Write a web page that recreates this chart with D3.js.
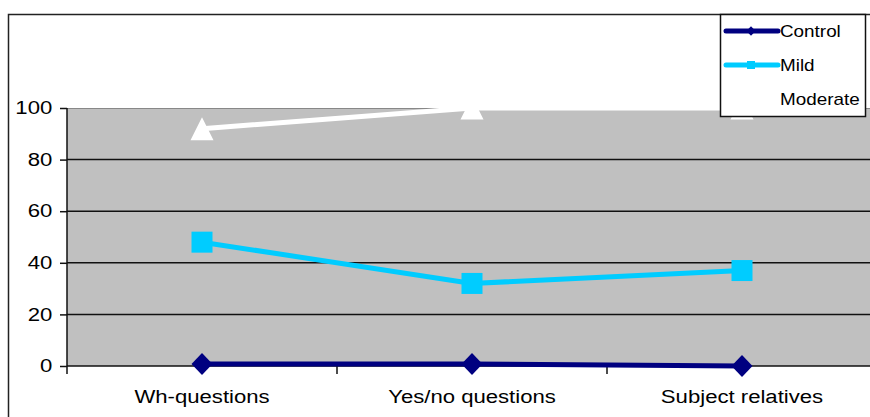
<!DOCTYPE html>
<html>
<head>
<meta charset="utf-8">
<script src="https://cdn.jsdelivr.net/npm/d3@7"></script>
<style>
body { margin: 0; background: #fff; }
text { font-family: "Liberation Sans", Arial, sans-serif; }
</style>
</head>
<body>
<div id="chart"></div>
<script>
var categories = ["Wh-questions", "Yes/no questions", "Subject relatives"],
    seriesNames = ["Control", "Mild", "Moderate"],
    control = [0.8, 0.8, 0],
    mild = [48, 32, 37],
    moderate = [92, 100, 100],
    yTicks = [0, 20, 40, 60, 80, 100];

var width = 870, height = 417,
    plotLeft = 67, plotRight = 877, plotTop = 108, plotBottom = 366,
    stretch = 1.23; // the text in the picture is stretched sideways

var svg = d3.select("#chart").append("svg")
    .attr("width", width).attr("height", height);

var x = d3.scaleBand().domain(categories).range([plotLeft, plotRight]);
var y = d3.scaleLinear().domain([0, 100]).range([plotBottom, plotTop]);

// marker shapes, size = half width
var diamond = { draw: function(c, r) {
    c.moveTo(0, -r * 1.05); c.lineTo(r, 0); c.lineTo(0, r * 1.05); c.lineTo(-r, 0); c.closePath();
} };
var square = { draw: function(c, r) { c.rect(-r, -r, 2 * r, 2 * r); } };
var triangle = { draw: function(c, r) {
    c.moveTo(0, -r); c.lineTo(r, r); c.lineTo(-r, r); c.closePath();
} };

// outer frame
svg.append("path").attr("d", "M8.5," + height + "V14.5H" + width)
    .attr("fill", "none").attr("stroke", "#222").attr("stroke-width", 1.5);

// plot area
svg.append("rect").attr("x", plotLeft).attr("y", plotTop)
    .attr("width", plotRight - plotLeft).attr("height", plotBottom - plotTop)
    .attr("fill", "#c0c0c0");
svg.append("line").attr("x1", plotLeft).attr("x2", plotRight).attr("y1", plotTop + 0.5).attr("y2", plotTop + 0.5)
    .attr("stroke", "#888").attr("stroke-width", 1);

// grid
svg.selectAll("line.grid").data(yTicks.filter(function(d) { return d > 0 && d < 100; }))
    .enter().append("line").attr("class", "grid")
    .attr("x1", plotLeft).attr("x2", plotRight)
    .attr("y1", function(d) { return y(d); }).attr("y2", function(d) { return y(d); })
    .attr("stroke", "#111").attr("stroke-width", 1.5);

// y axis
var yAxis = svg.append("g").attr("transform", "translate(" + plotLeft + ",0)")
    .call(d3.axisLeft(y).tickValues(yTicks).tickSize(7).tickPadding(5));
yAxis.select(".domain").attr("d", "M0," + plotTop + "V" + (plotBottom + 8)).attr("stroke", "#111").attr("stroke-width", 1.5);
yAxis.selectAll(".tick line").attr("stroke", "#111").attr("stroke-width", 1.5);
yAxis.selectAll(".tick text").attr("font-size", 18).attr("fill", "#000")
    .attr("font-family", "Liberation Sans, Arial, sans-serif")
    .attr("transform", "scale(" + stretch + ",1)");

// x axis
var xAxis = svg.append("g").attr("transform", "translate(0," + plotBottom + ")")
    .call(d3.axisBottom(x).tickSize(0).tickPadding(24));
xAxis.select(".domain").attr("d", "M" + plotLeft + ",0H" + plotRight).attr("stroke", "#111").attr("stroke-width", 1.5);
xAxis.selectAll(".tick text").attr("font-size", 18).attr("fill", "#000")
    .attr("font-family", "Liberation Sans, Arial, sans-serif")
    .attr("transform", "scale(" + stretch + ",1)");
xAxis.selectAll("line.sep").data(categories.slice(1)).enter().append("line").attr("class", "sep")
    .attr("x1", function(d) { return x(d); }).attr("x2", function(d) { return x(d); })
    .attr("y1", 0).attr("y2", 8).attr("stroke", "#111").attr("stroke-width", 1.5);

var cx = function(d, i) { return x(categories[i]) + x.bandwidth() / 2; };
var line = d3.line().x(cx).y(function(d) { return y(d); });

var series = [
    { name: seriesNames[0], values: control, color: "#000080", symbol: diamond, size: 10.5, lsize: 4.5 },
    { name: seriesNames[1], values: mild, color: "#00ccff", symbol: square, size: 10.5, lsize: 4 },
    { name: seriesNames[2], values: moderate, color: "#ffffff", symbol: triangle, size: 11.5, lsize: 4 }
];

series.slice().reverse().forEach(function(s) {
    svg.append("path").datum(s.values).attr("d", line)
        .attr("fill", "none").attr("stroke", s.color).attr("stroke-width", 5);
    svg.selectAll(null).data(s.values).enter().append("path")
        .attr("d", d3.symbol().type(s.symbol).size(s.size))
        .attr("transform", function(d, i) { return "translate(" + cx(d, i) + "," + y(d) + ")"; })
        .attr("fill", s.color);
});

// legend
var lg = svg.append("g");
lg.append("rect").attr("x", 720.5).attr("y", 14.5).attr("width", 145).attr("height", 102)
    .attr("fill", "#fff").attr("stroke", "#111").attr("stroke-width", 1.5);
var ly = d3.scalePoint().domain(seriesNames).range([31, 99]);
series.forEach(function(s) {
    var g = lg.append("g").attr("transform", "translate(0," + ly(s.name) + ")");
    g.append("line").attr("x1", 726).attr("x2", 778).attr("stroke", s.color).attr("stroke-width", 5)
        .attr("stroke-linecap", "round");
    g.append("path").attr("d", d3.symbol().type(s.symbol).size(s.lsize))
        .attr("transform", "translate(751,0)")
        .attr("fill", s.color);
    g.append("text").attr("transform", "translate(780,6) scale(1.18,1)")
        .attr("font-size", 16).attr("fill", "#000").text(s.name);
});
</script>
</body>
</html>
